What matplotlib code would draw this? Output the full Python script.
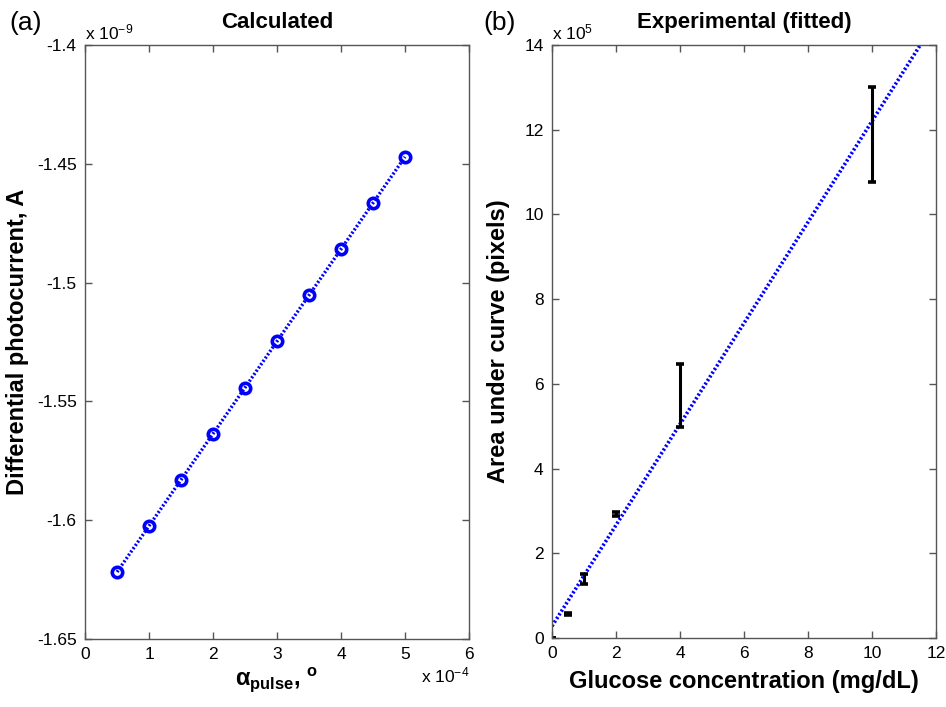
import matplotlib
matplotlib.use("Agg")
import matplotlib.pyplot as plt
import numpy as np

plt.rcParams['font.family'] = ['Liberation Sans', 'DejaVu Sans']
plt.rcParams['mathtext.fontset'] = 'custom'
plt.rcParams['mathtext.rm'] = 'Liberation Sans'
plt.rcParams['mathtext.it'] = 'Liberation Sans:italic'
plt.rcParams['mathtext.bf'] = 'Liberation Sans:bold'

# ---- Panel (a) data: alpha_pulse (x 1e-4), photocurrent (x 1e-9 A)
alpha_pulse = [0.5, 1.0, 1.5, 2.0, 2.5, 3.0, 3.5, 4.0, 4.5, 5.0]
photocurrent = [-1.6218, -1.6024, -1.5830, -1.5636, -1.5442,
                -1.5247, -1.5053, -1.4859, -1.4665, -1.4471]
a_xticks = [0, 1, 2, 3, 4, 5, 6]
a_yticks = [-1.65, -1.6, -1.55, -1.5, -1.45, -1.4]
a_yticklabels = ['-1.65', '-1.6', '-1.55', '-1.5', '-1.45', '-1.4']

# ---- Panel (b) data: glucose (mg/dL), area (x 1e5 pixels)
glucose = [0, 0.5, 1, 2, 4, 10]
area_mean = [0.0, 0.57, 1.39, 2.93, 5.72, 11.88]
area_err = [0.0, 0.03, 0.12, 0.04, 0.74, 1.12]
fit_slope = 1.192
fit_intercept = 0.28
b_xticks = [0, 2, 4, 6, 8, 10, 12]
b_yticks = [0, 2, 4, 6, 8, 10, 12, 14]

fig = plt.figure(figsize=(9.46, 7.07), dpi=100)
axA = fig.add_axes([0.0899, 0.0962, 0.4059, 0.8402])
axB = fig.add_axes([0.5835, 0.0976, 0.4059, 0.8388])

spine_col = '#555555'
for ax in (axA, axB):
    for s in ax.spines.values():
        s.set_color(spine_col)
        s.set_linewidth(1.0)
    ax.tick_params(direction='in', top=True, right=True, length=5,
                   width=1.0, color=spine_col, labelsize=12.5, pad=6)

dots = (0, (0.6, 0.6))

# Panel (a)
axA.plot(alpha_pulse, photocurrent, color='#0000ff', linestyle=dots,
         linewidth=2.4, marker='o', markersize=7.5, markerfacecolor='none',
         markeredgewidth=2.6, markeredgecolor='#0000ff')
axA.set_xlim(0, 6)
axA.set_ylim(-1.65, -1.4)
axA.set_xticks(a_xticks)
axA.set_xticklabels([str(t) for t in a_xticks])
axA.set_yticks(a_yticks)
axA.set_yticklabels(a_yticklabels)
axA.set_title('Calculated', fontsize=16, fontweight='bold', pad=12)
axA.set_ylabel('Differential photocurrent, A', fontsize=17, fontweight='bold', labelpad=6)
axA.set_xlabel(r'$\mathbf{\alpha_{pulse}}$, $^{\mathbf{o}}$', fontsize=17,
               fontweight='bold', labelpad=2)
axA.text(0.0, 1.005, r'x 10$^{-9}$', transform=axA.transAxes, fontsize=12.5,
         ha='left', va='bottom')
axA.text(1.0, -0.045, r'x 10$^{-4}$', transform=axA.transAxes, fontsize=12.5,
         ha='right', va='top')
fig.text(0.010, 0.967, '(a)', fontsize=19, ha='left', va='center')

# Panel (b)
xfit = np.array([0, 12])
axB.plot(xfit, fit_intercept + fit_slope * xfit, color='#0000ff', linestyle=dots,
         linewidth=2.6)
axB.errorbar(glucose, area_mean, yerr=area_err, fmt='none', ecolor='black',
             elinewidth=2.2, capsize=2.6, capthick=2.6)
axB.set_xlim(0, 12)
axB.set_ylim(0, 14)
axB.set_xticks(b_xticks)
axB.set_yticks(b_yticks)
axB.set_title('Experimental (fitted)', fontsize=16, fontweight='bold', pad=12)
axB.set_ylabel('Area under curve (pixels)', fontsize=17, fontweight='bold', labelpad=10)
axB.set_xlabel('Glucose concentration (mg/dL)', fontsize=17, fontweight='bold', labelpad=6)
axB.text(0.0, 1.005, r'x 10$^{5}$', transform=axB.transAxes, fontsize=12.5,
         ha='left', va='bottom')
fig.text(0.511, 0.967, '(b)', fontsize=19, ha='left', va='center')

fig.savefig('out.png', dpi=100)
